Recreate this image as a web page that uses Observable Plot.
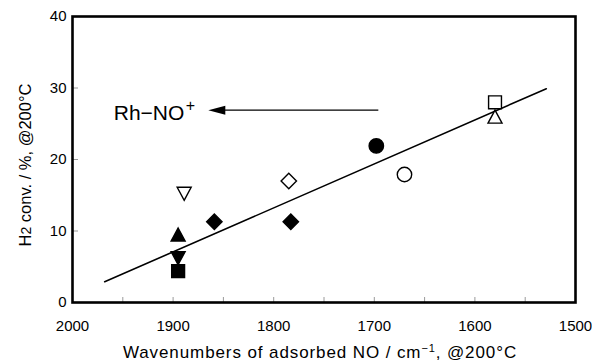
<!DOCTYPE html>
<html>
<head>
<meta charset="utf-8">
<script src="https://cdn.jsdelivr.net/npm/d3@7"></script>
<script src="https://cdn.jsdelivr.net/npm/@observablehq/plot@0.6"></script>
<style>
  html, body { margin: 0; padding: 0; background: #fff; }
  #chart svg { display: block; }
</style>
</head>
<body>
<div id="chart"></div>
<script>
// Wavenumber of adsorbed NO (cm-1) vs H2 conversion (%) at 200 °C
const wavenumber = [1889, 1895, 1895, 1895, 1859, 1785, 1783, 1698, 1670, 1580, 1580];
const conversion = [15.2, 9.5, 6.2, 4.4, 11.3, 17.0, 11.3, 21.9, 17.9, 28.0, 26.0];
const marker = ["triangleDown", "triangle", "triangleDown", "square", "diamond", "diamond", "diamond", "circle", "circle", "square", "triangle"];
const filled = [false, true, true, true, true, false, true, true, false, false, false];

// Linear fit line end points
const fitX = [1968, 1529];
const fitY = [2.9, 29.9];

// Rh–NO+ annotation: arrow tail / tip, label anchor
const arrowTail = [1696, 26.9];
const arrowTip = [1865, 26.9];
const labelAt = [1959, 26.4];

const xTickLabels = [2000, 1900, 1800, 1700, 1600, 1500];
const xMinorTicks = [1950, 1900, 1850, 1800, 1750, 1700, 1650, 1600, 1550];
const yTickLabels = [0, 10, 20, 30, 40];

// Marker shapes drawn around the point; r = sqrt(size / PI)
const shapes = {
  square: {draw(c, s) { const r = Math.sqrt(s / Math.PI), h = 0.92 * r; c.rect(-h, -h, 2 * h, 2 * h); }},
  circle: {draw(c, s) { const r = Math.sqrt(s / Math.PI) * 1.03; c.moveTo(r, 0); c.arc(0, 0, r, 0, 2 * Math.PI); }},
  diamond: {draw(c, s) { const r = Math.sqrt(s / Math.PI) * 1.1; c.moveTo(0, -r); c.lineTo(r, 0); c.lineTo(0, r); c.lineTo(-r, 0); c.closePath(); }},
  triangle: {draw(c, s) { const r = Math.sqrt(s / Math.PI); const w = r, h = 0.93 * r; c.moveTo(0, -h); c.lineTo(w, h); c.lineTo(-w, h); c.closePath(); }},
  triangleDown: {draw(c, s) { const r = Math.sqrt(s / Math.PI); const w = r, h = 0.93 * r; c.moveTo(0, h); c.lineTo(w, -h); c.lineTo(-w, -h); c.closePath(); }}
};
// Filled arrow head with its tip at the anchor point, pointing left
const arrowHead = {draw(c) { c.moveTo(0, 0); c.lineTo(17, -4.5); c.lineTo(17, 4.5); c.closePath(); }};

const points = wavenumber.map((w, i) => ({
  w, conv: conversion[i], symbol: shapes[marker[i]], fill: filled[i] ? "black" : "white"
}));
const fit = fitX.map((w, i) => ({w, conv: fitY[i]}));

const W = 592, H = 363;
const chart = Plot.plot({
  width: W,
  height: H,
  marginLeft: 72,
  marginRight: 17,
  marginTop: 16,
  marginBottom: 61,
  x: {domain: [2000, 1500]},
  y: {domain: [0, 40]},
  style: {fontFamily: "'Liberation Sans', Arial, sans-serif", background: "white", color: "black"},
  marks: [
    Plot.tickY(yTickLabels.slice(1, -1), {y: d => d, stroke: "#9a9a9a", strokeWidth: 1, insetRight: 497}),
    Plot.tickX(xMinorTicks, {x: d => d, stroke: "#9a9a9a", strokeWidth: 1, insetTop: 281}),
    Plot.axisX({ticks: xTickLabels, tickSize: 0, tickPadding: 18, fontSize: 15, tickFormat: d => String(d), label: null}),
    Plot.axisY({ticks: yTickLabels, tickSize: 0, tickPadding: 6, fontSize: 15, label: null}),
    Plot.line(fit, {x: "w", y: "conv", stroke: "black", strokeWidth: 1.6}),
    Plot.link([0], {x1: () => arrowTail[0], y1: () => arrowTail[1], x2: () => arrowTip[0] - 12, y2: () => arrowTip[1], stroke: "black", strokeWidth: 1.2}),
    Plot.dot([0], {x: () => arrowTip[0], y: () => arrowTip[1], symbol: arrowHead, fill: "black", stroke: "none"}),
    Plot.text([0], {x: () => labelAt[0], y: () => labelAt[1], text: () => "Rh\u2212NO", textAnchor: "start", lineAnchor: "middle", fontSize: 21}),
    Plot.text([0], {x: () => labelAt[0], y: () => labelAt[1], text: () => "+", textAnchor: "start", lineAnchor: "middle", fontSize: 16, dx: 72, dy: -8}),
    Plot.dot(points, {x: "w", y: "conv", symbol: "symbol", fill: "fill", stroke: "black", strokeWidth: 1.4, r: 7}),
    Plot.frame({stroke: "black", strokeWidth: 2.6})
  ]
});
document.getElementById("chart").append(chart);

// Axis titles with super/subscripts
const svg = d3.select(chart);
const xt = svg.append("text")
  .attr("x", 320).attr("y", 358)
  .attr("text-anchor", "middle")
  .attr("font-size", 17)
  .attr("letter-spacing", 0.9)
  .attr("fill", "black");
xt.append("tspan").text("Wavenumbers of adsorbed NO / cm");
xt.append("tspan").attr("dy", -6).attr("font-size", 11).text("\u22121");
xt.append("tspan").attr("dy", 6).text(", @200\u00B0C");

const yt = svg.append("text")
  .attr("transform", "translate(31,165) rotate(-90)")
  .attr("text-anchor", "middle")
  .attr("font-size", 16.5)
  .attr("letter-spacing", 0)
  .attr("fill", "black");
yt.append("tspan").text("H");
yt.append("tspan").attr("font-size", 14).text("2");
yt.append("tspan").text(" conv. / %, @200\u00B0C");
</script>
</body>
</html>
